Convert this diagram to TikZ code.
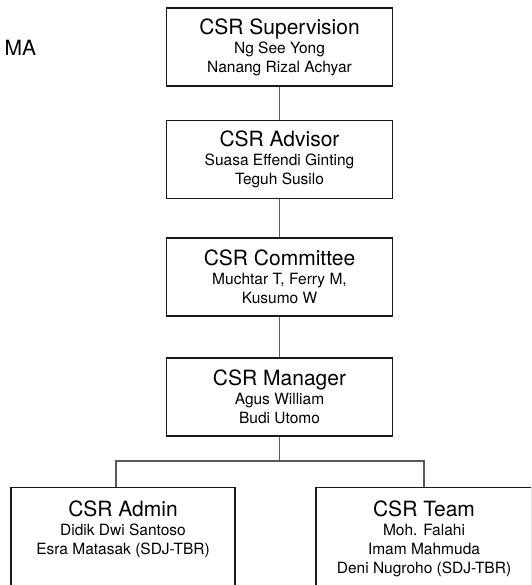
\documentclass[tikz,border=0pt]{standalone}
\usepackage{fontspec}
\setmainfont{TeX Gyre Heros}
\newcommand\boxtitle[1]{{\fontsize{21}{21}\selectfont #1}}
\begin{document}
\begin{tikzpicture}[x=1pt,y=-1pt,
  box/.style={draw=black!90, line width=1.1pt, minimum width=226pt, minimum height=78pt,
    align=center, inner sep=0pt, font=\fontsize{15.5}{19}\selectfont},
  openbox/.style={box, minimum height=0pt, inner xsep=0pt, inner ysep=12.8pt, text depth=70pt},
  conn/.style={draw=black!65, line width=1.1pt}]
\useasboundingbox (0,0) rectangle (531,585);
\fill[white] (0,0) rectangle (531,585);
\clip (0,0) rectangle (531,585);
\node[anchor=west, inner sep=0pt, font=\fontsize{21}{21}\selectfont] (ma) at (4.5,47.5) {MA};
\node[box] (sup) at (279.5,47) {\boxtitle{CSR Supervision}\\Ng See Yong\\Nanang Rizal Achyar};
\node[box] (adv) at (279.5,159.5) {\boxtitle{CSR Advisor}\\Suasa Effendi Ginting\\Teguh Susilo};
\node[box] (com) at (279.5,277) {\boxtitle{CSR Committee}\\Muchtar T, Ferry M,\\Kusumo W};
\node[box] (mgr) at (279.5,397) {\boxtitle{CSR Manager}\\Agus William\\Budi Utomo};
\node[openbox, anchor=north, minimum width=224pt] (adm) at (123,487) {\boxtitle{CSR Admin}\\Didik Dwi Santoso\\Esra Matasak (SDJ-TBR)};
\node[openbox, anchor=north, minimum width=216pt] (team) at (424,487) {\boxtitle{CSR Team}\\Moh. Falahi\\Imam Mahmuda\\Deni Nugroho (SDJ-TBR)};
\coordinate (bar) at (279.5,461);
\coordinate (adrop) at (116,487);
\draw[conn] (sup) -- (adv);
\draw[conn] (adv) -- (com);
\draw[conn] (com) -- (mgr);
\draw[conn] (mgr.south) -- (bar);
\draw[conn] (adrop) |- (bar) -| (team.north);
\end{tikzpicture}
\end{document}
